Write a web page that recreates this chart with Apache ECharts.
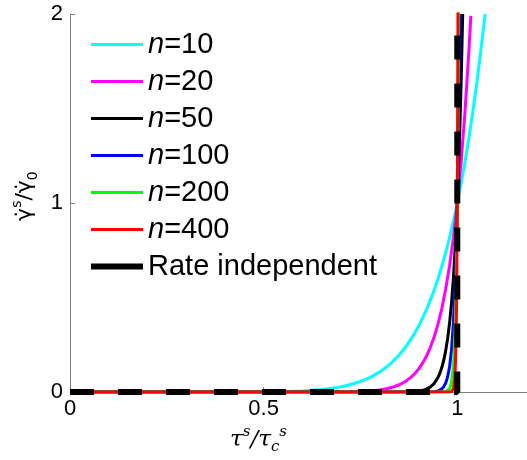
<!DOCTYPE html>
<html>
<head>
<meta charset="utf-8">
<script src="https://cdn.jsdelivr.net/npm/echarts@6/dist/echarts.min.js"></script>
<style>
html,body{margin:0;padding:0;background:#fff;}
#c{width:527px;height:460px;}
</style>
</head>
<body>
<div id="c"></div>
<script>
// ---- data ----
const seriesNames = ['n=10','n=20','n=50','n=100','n=200','n=400','Rate independent'];
const xTicks = [0, 0.5, 1];
const yTicks = [0, 1, 2];

const x10 = [0,0.5,0.55,0.6,0.65,0.68,0.7,0.72,0.75,0.76,0.78,0.8,0.82,0.83,0.85,0.86,0.87,0.88,0.89,0.9,0.91,0.92,0.93,0.94,0.95,0.96,0.97,0.98,0.99,1.0,1.01,1.02,1.03,1.04,1.05,1.06,1.072];
const y10 = [0,0.001,0.0025,0.006,0.0135,0.0211,0.0282,0.0374,0.0563,0.0643,0.0834,0.107,0.1374,0.155,0.197,0.2213,0.2484,0.2785,0.3118,0.349,0.3894,0.4344,0.484,0.5386,0.599,0.6648,0.737,0.817,0.904,1,1.105,1.219,1.344,1.48,1.629,1.791,2.0];

const x20 = [0,0.6,0.7,0.72,0.75,0.78,0.8,0.82,0.83,0.85,0.86,0.87,0.88,0.89,0.9,0.91,0.92,0.93,0.94,0.95,0.96,0.97,0.98,0.99,1.0,1.01,1.02,1.03,1.035];
const y20 = [0,0.00004,0.0008,0.0014,0.0032,0.007,0.0115,0.0189,0.0241,0.0388,0.049,0.0617,0.0776,0.0972,0.1216,0.1516,0.1887,0.2342,0.2901,0.3585,0.442,0.5438,0.6676,0.8179,1,1.2202,1.4859,1.8061,1.99];

const x50 = [0,0.85,0.88,0.9,0.91,0.92,0.93,0.94,0.95,0.955,0.96,0.965,0.97,0.975,0.98,0.985,0.99,0.995,1.0,1.005,1.01,1.014];
const y50 = [0,0.0003,0.0017,0.0052,0.009,0.0155,0.0266,0.0453,0.0769,0.1,0.1299,0.1685,0.218,0.282,0.364,0.4697,0.605,0.778,1,1.283,1.645,2.0];

const x100 = [0,0.9,0.93,0.94,0.95,0.955,0.96,0.965,0.97,0.975,0.98,0.985,0.99,0.995,1.0,1.003,1.005,1.007];
const y100 = [0,0.00003,0.0007,0.0021,0.0059,0.01,0.0169,0.0284,0.0476,0.0795,0.1326,0.2206,0.366,0.606,1,1.349,1.647,2.0];

const x200 = [0,0.95,0.96,0.97,0.975,0.98,0.985,0.99,0.993,0.995,0.997,1.0,1.002,1.0035];
const y200 = [0,0.00004,0.0003,0.0023,0.0063,0.0176,0.0487,0.134,0.2454,0.367,0.548,1,1.491,2.01];

const x400 = [0,0.975,0.98,0.985,0.99,0.993,0.995,0.997,0.998,0.999,1.0,1.001,1.00175];
const y400 = [0,0.00004,0.0003,0.0024,0.018,0.0602,0.1348,0.3004,0.449,0.67,1,1.492,2.01];

const xRI = [0, 1, 1];
const yRI = [0, 0, 2];

const colors = ['#00ffff','#ff00ff','#000000','#0000ff','#00ff00','#ff0000'];
const xs = [x10,x20,x50,x100,x200,x400];
const ys = [y10,y20,y50,y100,y200,y400];

function pairs(x, y){ return x.map((v,i)=>[v, y[i]]); }

const series = xs.map((x,i)=>({
  name: seriesNames[i],
  type: 'line',
  data: pairs(x, ys[i]),
  symbol: 'none',
  smooth: false,
  clip: true,
  lineStyle: {color: colors[i], width: 3},
  itemStyle: {color: colors[i]}
}));
series.push({
  name: seriesNames[6],
  type: 'line',
  data: pairs(xRI, yRI),
  symbol: 'none',
  clip: true,
  lineStyle: {color: '#000', width: 6, type: [24, 24]},
  itemStyle: {color: '#000'}
});

const chart = echarts.init(document.getElementById('c'), null, {renderer: 'canvas'});
const option = {
  animation: false,
  backgroundColor: '#fff',
  grid: {left: 70, right: 0, top: 14, bottom: 64, containLabel: false},
  xAxis: {
    type: 'value', min: 0, max: 1.18,
    axisLine: {onZero: false, lineStyle: {color: '#808080', width: 1}},
    axisTick: {inside: true, length: 5, customValues: xTicks, lineStyle: {color: '#808080'}},
    axisLabel: {customValues: xTicks, color: '#000', fontSize: 22, fontFamily: 'Liberation Sans', margin: 6},
    splitLine: {show: false},
    name: '{t|τ}{sup|s}{t|/τ}{sub|c}{sup|s}',
    nameLocation: 'middle', nameGap: 32,
    nameTextStyle: {
      padding: [0, 80, 0, 0],
      rich: {
        t: {fontFamily: 'DejaVu Serif', fontStyle: 'italic', fontSize: 23, color: '#000', lineHeight: 30, verticalAlign: 'middle'},
        sup: {fontFamily: 'DejaVu Serif', fontStyle: 'italic', fontSize: 15, color: '#000', lineHeight: 30, verticalAlign: 'top'},
        sub: {fontFamily: 'DejaVu Serif', fontStyle: 'italic', fontSize: 15, color: '#000', lineHeight: 30, verticalAlign: 'bottom'}
      }
    }
  },
  yAxis: {
    type: 'value', min: 0, max: 2, interval: 1,
    axisLine: {show: true, lineStyle: {color: '#808080', width: 1}},
    axisTick: {show: true, inside: true, length: 5, lineStyle: {color: '#808080'}},
    axisLabel: {color: '#000', fontSize: 22, fontFamily: 'Liberation Sans', margin: 7},
    splitLine: {show: false},
    name: '{g|γ̇}{sup|s}{g|/γ̇}{sub|0}',
    nameLocation: 'middle', nameGap: 16, nameRotate: 90,
    nameTextStyle: {
      padding: [0, 0, 0, 14],
      rich: {
        g: {fontFamily: 'DejaVu Sans', fontSize: 22, color: '#000', lineHeight: 30, verticalAlign: 'middle'},
        sup: {fontFamily: 'DejaVu Sans', fontSize: 14, color: '#000', lineHeight: 30, verticalAlign: 'top'},
        sub: {fontFamily: 'DejaVu Sans', fontSize: 14, color: '#000', lineHeight: 30, verticalAlign: 'bottom'}
      }
    }
  },
  legend: {
    orient: 'vertical', left: 88, top: 30, padding: 0,
    itemWidth: 52, itemHeight: 14, itemGap: 8,
    itemStyle: {opacity: 0},
    lineStyle: {width: 3},
    data: seriesNames.slice(0,6).concat([{name: seriesNames[6], lineStyle: {type: 'solid', width: 6}}]),
    formatter: function(name){
      if (name.indexOf('n=') === 0) return '{i|n}{r|' + name.slice(1) + '}';
      return '{r|' + name + '}';
    },
    textStyle: {
      color: '#000', fontSize: 29, fontFamily: 'Liberation Sans',
      rich: {
        i: {fontStyle: 'italic', fontSize: 29, fontFamily: 'Liberation Sans', color: '#000', lineHeight: 29},
        r: {fontSize: 29, fontFamily: 'Liberation Sans', color: '#000', lineHeight: 29}
      }
    }
  },
  series: series
};
chart.setOption(option);
</script>
</body>
</html>
